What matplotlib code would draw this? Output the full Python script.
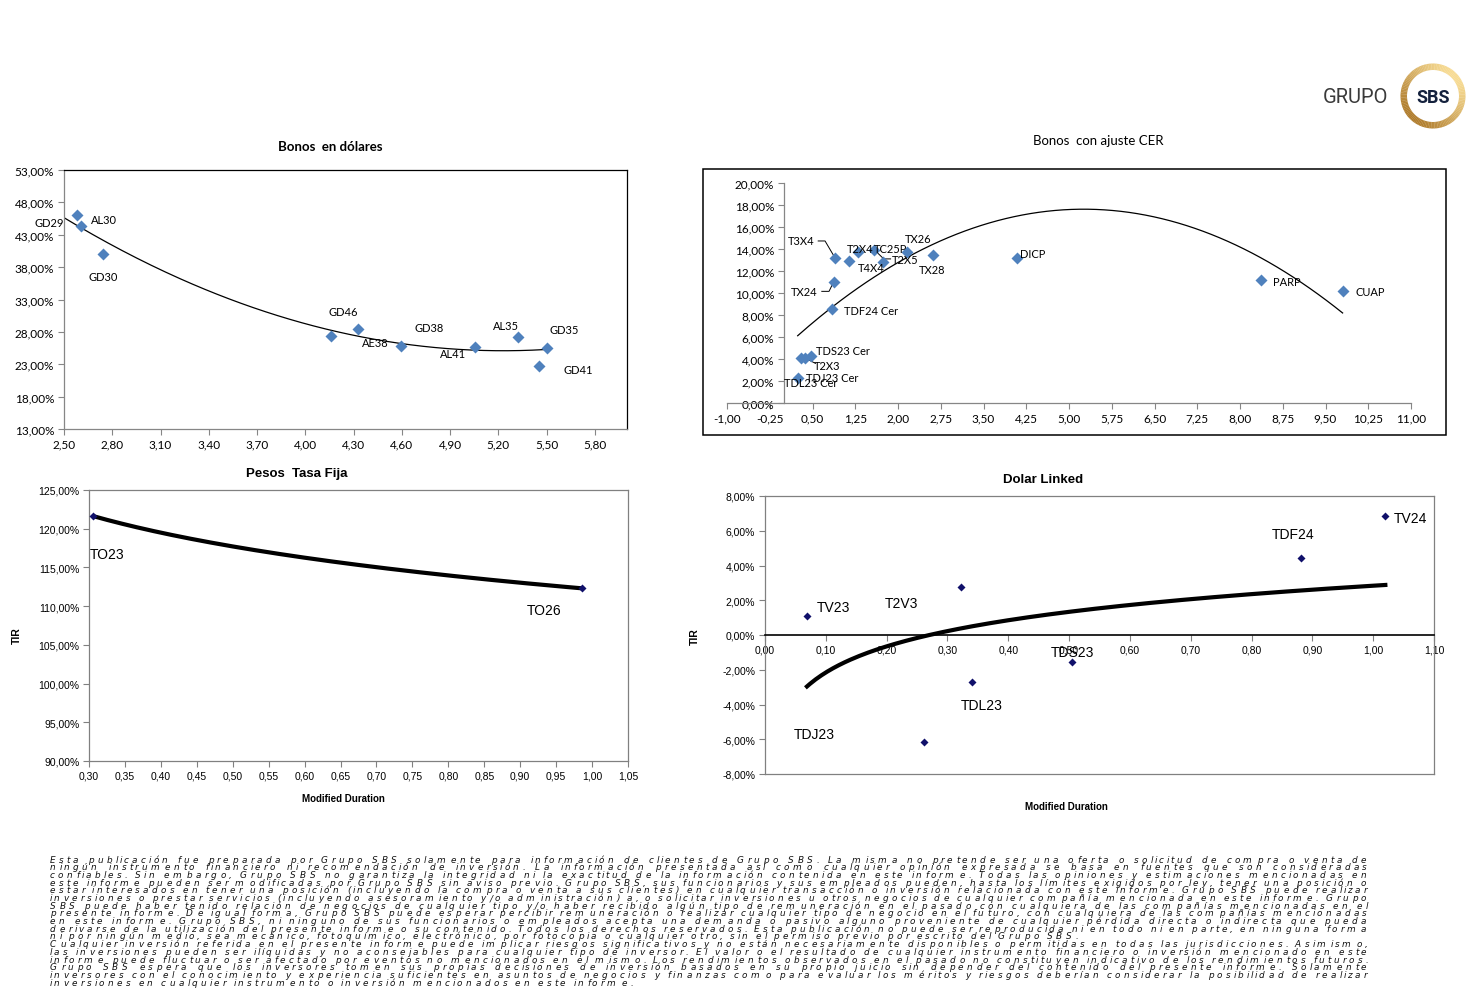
import numpy as np
import matplotlib
matplotlib.use('Agg')
import matplotlib.pyplot as plt
from matplotlib.patches import Rectangle, Wedge
from matplotlib.ticker import FuncFormatter, FixedLocator
from matplotlib.font_manager import FontProperties, findfont
from matplotlib.ft2font import FT2Font

# ---------------- data ----------------
usd_names = ['AL30', 'GD29', 'GD30', 'AE38', 'GD46', 'GD38', 'AL41', 'AL35', 'GD41', 'GD35']
usd_md = [2.582, 2.607, 2.745, 4.16, 4.33, 4.594, 5.058, 5.321, 5.454, 5.50]
usd_tir = [46.0, 44.4, 40.0, 27.3, 28.5, 25.86, 25.6, 27.15, 22.8, 25.55]

cer_names = ['TDL23 Cer', 'TDJ23 Cer', 'T2X3', 'TDS23 Cer', 'TDF24 Cer', 'TX24', 'T3X4', 'T2X4',
             'TC25P', 'T2X5', 'T4X4', 'TX26', 'TX28', 'DICP', 'PARP', 'CUAP']
cer_md = [0.24, 0.29, 0.36, 0.47, 0.84, 0.87, 0.90, 1.14, 1.30, 1.58, 1.73, 2.16, 2.62, 4.08, 8.36, 9.80]
cer_tir = [2.24, 4.08, 4.12, 4.29, 8.55, 11.0, 13.15, 12.9, 13.7, 13.95, 12.85, 13.75, 13.45, 13.15, 11.18, 10.15]

fija_names = ['TO23', 'TO26']
fija_md = [0.305, 0.986]
fija_tir = [121.65, 112.3]

dl_names = ['TV23', 'TDJ23', 'T2V3', 'TDL23', 'TDS23', 'TDF24', 'TV24']
dl_md = [0.069, 0.262, 0.322, 0.341, 0.505, 0.882, 1.020]
dl_tir = [1.07, -6.14, 2.74, -2.73, -1.57, 4.41, 6.87]

usd_xticks = [2.5, 2.8, 3.1, 3.4, 3.7, 4.0, 4.3, 4.6, 4.9, 5.2, 5.5, 5.8]
usd_yticks = [13, 18, 23, 28, 33, 38, 43, 48, 53]
cer_xticks = [-1.0, -0.25, 0.5, 1.25, 2.0, 2.75, 3.5, 4.25, 5.0, 5.75, 6.5, 7.25, 8.0, 8.75, 9.5, 10.25, 11.0]
cer_yticks = [0, 2, 4, 6, 8, 10, 12, 14, 16, 18, 20]
fija_xticks = [0.30, 0.35, 0.40, 0.45, 0.50, 0.55, 0.60, 0.65, 0.70, 0.75, 0.80, 0.85, 0.90, 0.95, 1.00, 1.05]
fija_yticks = [90, 95, 100, 105, 110, 115, 120, 125]
dl_xticks = [0.0, 0.1, 0.2, 0.3, 0.4, 0.5, 0.6, 0.7, 0.8, 0.9, 1.0, 1.1]
dl_yticks = [-8, -6, -4, -2, 0, 2, 4, 6, 8]

# ---------------- label layout (data coords of label centres) ----------------
usd_lbl = {'AL30': (2.748, 45.4), 'GD29': (2.406, 44.9), 'GD30': (2.743, 36.6), 'GD46': (4.236, 31.1),
           'AE38': (4.433, 26.3), 'GD38': (4.772, 28.6), 'AL41': (4.918, 24.6), 'AL35': (5.25, 29.05),
           'GD35': (5.61, 28.3), 'GD41': (5.70, 22.15)}
cer_lbl = {'T3X4': (0.30, 14.73), 'T2X4': (1.34, 14.03), 'TC25P': (1.877, 14.03), 'T2X5': (2.12, 13.06),
           'T4X4': (1.53, 12.36), 'TX26': (2.35, 14.94), 'TX28': (2.60, 12.12), 'DICP': (4.37, 13.6),
           'PARP': (8.82, 11.0), 'CUAP': (10.28, 10.1), 'TX24': (0.35, 10.1), 'TDF24 Cer': (1.53, 8.45),
           'TDS23 Cer': (1.035, 4.73), 'T2X3': (0.75, 3.45), 'TDJ23 Cer': (0.84, 2.36), 'TDL23 Cer': (0.47, 1.9)}
cer_leaders = {'T3X4': [(0.60, 14.73), (0.72, 14.73)], 'TX24': [(0.663, 10.15), (0.79, 10.15)],
               'T2X3': [(0.552, 3.6)], 'T2X5': [(1.87, 13.1), (1.75, 13.1)]}
fija_lbl = {'TO23': (0.3257, 116.7), 'TO26': (0.9326, 109.5)}
dl_lbl = {'TV23': (0.113, 1.59), 'T2V3': (0.225, 1.82), 'TDJ23': (0.081, -5.72), 'TDL23': (0.356, -4.03),
          'TDS23': (0.506, -0.96), 'TDF24': (0.868, 5.80), 'TV24': (1.062, 6.76)}

W, H = 1480, 1003
fig = plt.figure(figsize=(W / 100, H / 100), dpi=100)
fig.patch.set_facecolor('white')

bg = fig.add_axes([0, 0, 1, 1])
bg.set_xlim(0, W)
bg.set_ylim(H, 0)
bg.axis('off')


def px_axes(x0, y0, x1, y1):
    a = fig.add_axes([x0 / W, (H - y1) / H, (x1 - x0) / W, (y1 - y0) / H])
    a.set_facecolor('none')
    return a


pct = FuncFormatter(lambda v, _: f"{v:.2f}%".replace('.', ','))
dec = FuncFormatter(lambda v, _: f"{v:.2f}".replace('.', ','))

TOPF = 'Lato'
BOTF = 'Liberation Sans'
BLUE = '#4F81BD'
NAVY = '#10106a'
GRAY = '#868686'

# ---------------- chart 1: Bonos en dolares ----------------
ax1 = px_axes(64, 171, 627, 430)
ax1.set_xlim(2.5, 6.0)
ax1.set_ylim(13, 53)
ax1.xaxis.set_major_locator(FixedLocator(usd_xticks))
ax1.yaxis.set_major_locator(FixedLocator(usd_yticks))
ax1.xaxis.set_major_formatter(dec)
ax1.yaxis.set_major_formatter(pct)
for s in ['left', 'bottom']:
    ax1.spines[s].set_color(GRAY)
for s in ['top', 'right']:
    ax1.spines[s].set_color('black')
for s in ax1.spines.values():
    s.set_linewidth(0.9)
ax1.tick_params(direction='out', length=4, width=0.8, color=GRAY, labelsize=8.5,
                labelfontfamily=TOPF, pad=3, labelcolor='black')
c1 = np.polyfit(usd_md, usd_tir, 2)
xs1 = np.linspace(2.5, max(usd_md), 200)
ax1.plot(xs1, np.polyval(c1, xs1), color='black', lw=0.9, zorder=2)
ax1.plot(usd_md, usd_tir, 'D', color=BLUE, ms=6, mec='none', zorder=3, clip_on=False)
for n in usd_names:
    ax1.text(*usd_lbl[n], n, ha='center', va='center', fontsize=8, family=TOPF, clip_on=False)
bg.text(330, 147, 'Bonos  en dólares', ha='center', va='center', fontsize=9.5,
        fontweight='bold', family=TOPF)

# ---------------- chart 2: Bonos con ajuste CER ----------------
bg.add_patch(Rectangle((703, 170), 743, 266, fill=False, edgecolor='black', lw=1.1))
bg.text(1098, 141, 'Bonos  con ajuste CER', ha='center', va='center', fontsize=9.5, family=TOPF)
ax2 = px_axes(727, 184, 1411, 404)
ax2.set_xlim(-1, 11)
ax2.set_ylim(0, 20)
ax2.xaxis.set_major_locator(FixedLocator(cer_xticks))
ax2.yaxis.set_major_locator(FixedLocator(cer_yticks))
ax2.xaxis.set_major_formatter(dec)
ax2.yaxis.set_major_formatter(pct)
ax2.spines['top'].set_visible(False)
ax2.spines['right'].set_visible(False)
ax2.spines['left'].set_position(('data', 0))
for s in ['left', 'bottom']:
    ax2.spines[s].set_color(GRAY)
    ax2.spines[s].set_linewidth(0.9)
ax2.tick_params(direction='out', length=4, width=0.8, color=GRAY, labelsize=8.5,
                labelfontfamily=TOPF, pad=3)
c2 = np.polyfit(cer_md, cer_tir, 2)
xs2 = np.linspace(min(cer_md), max(cer_md), 200)
ax2.plot(xs2, np.polyval(c2, xs2), color='black', lw=0.9, zorder=2)
ax2.plot(cer_md, cer_tir, 'D', color=BLUE, ms=6, mec='none', zorder=3, clip_on=False)
for n, x, y in zip(cer_names, cer_md, cer_tir):
    ax2.text(*cer_lbl[n], n, ha='center', va='center', fontsize=8, family=TOPF, clip_on=False)
    if n in cer_leaders:
        pts = cer_leaders[n] + [(x, y)]
        ax2.plot([p[0] for p in pts], [p[1] for p in pts], color='black', lw=0.7, zorder=2)

# ---------------- chart 3: Pesos Tasa Fija ----------------
ax3 = px_axes(89, 491, 628, 762)
ax3.set_xlim(0.30, 1.05)
ax3.set_ylim(90, 125)
ax3.xaxis.set_major_locator(FixedLocator(fija_xticks))
ax3.yaxis.set_major_locator(FixedLocator(fija_yticks))
ax3.xaxis.set_major_formatter(dec)
ax3.yaxis.set_major_formatter(pct)
for s in ax3.spines.values():
    s.set_color('#808080')
    s.set_linewidth(0.9)
ax3.tick_params(direction='out', length=4, width=0.8, color='#808080', labelsize=7.5,
                labelfontfamily=BOTF, pad=3)
c3 = np.polyfit(np.log(fija_md), fija_tir, 1)
xs3 = np.linspace(min(fija_md), max(fija_md), 200)
ax3.plot(xs3, np.polyval(c3, np.log(xs3)), color='black', lw=3, zorder=2, solid_capstyle='butt')
ax3.plot(fija_md, fija_tir, 'D', color=NAVY, ms=4, mec='none', zorder=3, clip_on=False)
for n in fija_names:
    ax3.text(*fija_lbl[n], n, ha='center', va='center', fontsize=10, family=BOTF)
bg.text(297, 474, 'Pesos  Tasa Fija', ha='center', va='center', fontsize=9.5,
        fontweight='bold', family=BOTF)
bg.text(17, 636, 'TIR', ha='center', va='center', rotation=90, fontsize=7.5,
        fontweight='bold', family=BOTF)
bg.text(343, 799, 'Modified Duration', ha='center', va='center', fontsize=7,
        fontweight='bold', family=BOTF)

# ---------------- chart 4: Dolar Linked ----------------
ax4 = px_axes(765, 497, 1434, 775)
ax4.set_xlim(0, 1.10)
ax4.set_ylim(-8, 8)
ax4.xaxis.set_major_locator(FixedLocator(dl_xticks))
ax4.yaxis.set_major_locator(FixedLocator(dl_yticks))
ax4.xaxis.set_major_formatter(dec)
ax4.yaxis.set_major_formatter(pct)
for s in ['left', 'top', 'right']:
    ax4.spines[s].set_color('#808080')
    ax4.spines[s].set_linewidth(0.9)
ax4.spines['bottom'].set_position(('data', 0))
ax4.spines['bottom'].set_color('black')
ax4.spines['bottom'].set_linewidth(1.2)
ax4.plot([0, 1], [0, 0], transform=ax4.transAxes, color='#808080', lw=0.9, clip_on=False)
ax4.tick_params(direction='out', length=4, width=0.8, color='#808080', labelsize=7.5,
                labelfontfamily=BOTF, pad=3)
c4 = np.polyfit(np.log(dl_md), dl_tir, 1)
xs4 = np.linspace(min(dl_md), max(dl_md), 200)
ax4.plot(xs4, np.polyval(c4, np.log(xs4)), color='black', lw=3, zorder=2)
ax4.plot(dl_md, dl_tir, 'D', color=NAVY, ms=4, mec='none', zorder=3, clip_on=False)
for n in dl_names:
    ax4.text(*dl_lbl[n], n, ha='center', va='center', fontsize=10, family=BOTF, clip_on=False)
bg.text(1043, 480, 'Dolar Linked', ha='center', va='center', fontsize=9.5,
        fontweight='bold', family=BOTF)
bg.text(695, 637, 'TIR', ha='center', va='center', rotation=90, fontsize=7.5,
        fontweight='bold', family=BOTF)
bg.text(1066, 807, 'Modified Duration', ha='center', va='center', fontsize=7,
        fontweight='bold', family=BOTF)

# ---------------- logo ----------------
cx, cy, r_out, ring = 1433, 97, 32.5, 6.5
dark = np.array([0.69, 0.49, 0.18])
light = np.array([0.97, 0.86, 0.58])
for a0 in range(0, 360, 3):
    t = (1 + np.cos(np.radians(a0 + 1.5 + 45))) / 2
    col = dark * (1 - t) + light * t
    bg.add_patch(Wedge((cx, cy), r_out, a0, a0 + 3.4, width=ring, facecolor=col, edgecolor='none'))
bg.text(1433, 97.5, 'SBS', ha='center', va='center', fontsize=13, fontweight='bold',
        family='Roboto', color='#14213d')
bg.text(1355, 97, 'GRUPO', ha='center', va='center', fontsize=14.5, fontweight='normal',
        family='Roboto', color='#3a3a3a')

# ---------------- disclaimer ----------------
disc_lines = [
    "Esta publicación fue preparada por Grupo SBS solamente para información de clientes de Grupo SBS. La misma no pretende ser una oferta o solicitud de compra o venta de",
    "ningún instrumento financiero ni recomendación de inversión. La información presentada así como cualquier opinión expresada se basa en fuentes que son consideradas",
    "confiables. Sin embargo, Grupo SBS no garantiza la integridad ni la exactitud de la información contenida en este informe. Todas las opiniones y estimaciones mencionadas en",
    "este informe pueden ser modificadas por Grupo SBS sin aviso previo. Grupo SBS, sus funcionarios y sus empleados pueden, hasta los límites exigidos por ley, tener una posición o",
    "estar interesados en tener una posición (incluyendo la compra o venta a sus clientes) en cualquier transacción o inversión relacionada con este informe. Grupo SBS puede realizar",
    "inversiones o prestar servicios (incluyendo asesoramiento y/o administración) a, o solicitar inversiones u otros negocios de cualquier compañía mencionada en este informe. Grupo",
    "SBS puede haber tenido relación de negocios de cualquier tipo y/o haber recibido algún tipo de remuneración en el pasado con cualquiera de las compañías mencionadas en el",
    "presente informe. De igual forma, Grupo SBS puede esperar percibir remuneración o realizar cualquier tipo de negocio en el futuro, con cualquiera de las compañías mencionadas",
    "en este informe. Grupo SBS, ni ninguno de sus funcionarios o empleados acepta una demanda o pasivo alguno proveniente de cualquier pérdida directa o indirecta que pueda",
    "derivarse de la utilización del presente informe o su contenido. Todos los derechos reservados. Esta publicación no puede ser reproducida ni en todo ni en parte, en ninguna forma",
    "ni por ningún medio, sea mecánico, fotoquímico, electrónico, por fotocopia o cualquier otro, sin el permiso previo por escrito del Grupo SBS.",
    "Cualquier inversión referida en el presente informe puede implicar riesgos significativos y no están necesariamente disponibles o permitidas en todas las jurisdicciones. Asimismo,",
    "las inversiones pueden ser ilíquidas y no aconsejables para cualquier tipo de inversor. El valor o el resultado de cualquier instrumento financiero o inversión mencionado en este",
    "informe puede fluctuar o ser afectado por eventos no mencionados en el mismo. Los rendimientos observados en el pasado no constituyen indicativo de los rendimientos futuros.",
    "Grupo SBS espera que los inversores tomen sus propias decisiones de inversión basados en su propio juicio sin depender del contenido del presente informe. Solamente",
    "inversores con el conocimiento y experiencia suficientes en asuntos de negocios y finanzas como para evaluar los méritos y riesgos deberían considerar la posibilidad de realizar",
    "inversiones en cualquier instrumento o inversión mencionados en este informe.",
]
disc_last = {10, 16}

DPT = 6.4
fp_disc = FontProperties(family='DejaVu Sans', style='oblique', size=DPT)
ft = FT2Font(findfont(fp_disc), hinting_factor=1)
ft.set_size(DPT, 100)
_adv = {}


def adv(ch):
    if ch not in _adv:
        g = ft.load_char(ord(ch))
        _adv[ch] = g.linearHoriAdvance / 65536.0
    return _adv[ch]


x_left, x_right = 50, 1370
ref_w11 = 1030.0
nat11 = sum(adv(c) for c in disc_lines[10])
k0 = ref_w11 / nat11
for i, line in enumerate(disc_lines):
    yb = 860 + i * 7.69 + 2.6
    nat = sum(adv(c) for c in line) * k0
    nsp = line.count(' ')
    extra = 0.0 if i in disc_last else (x_right - x_left - nat) / max(nsp, 1)
    x = x_left
    for ch in line:
        if ch == ' ':
            x += adv(ch) * k0 + extra
            continue
        bg.text(x, yb, ch, fontproperties=fp_disc, color='#111111', ha='left', va='baseline')
        x += adv(ch) * k0

fig.savefig('out.png', dpi=100, facecolor='white')
